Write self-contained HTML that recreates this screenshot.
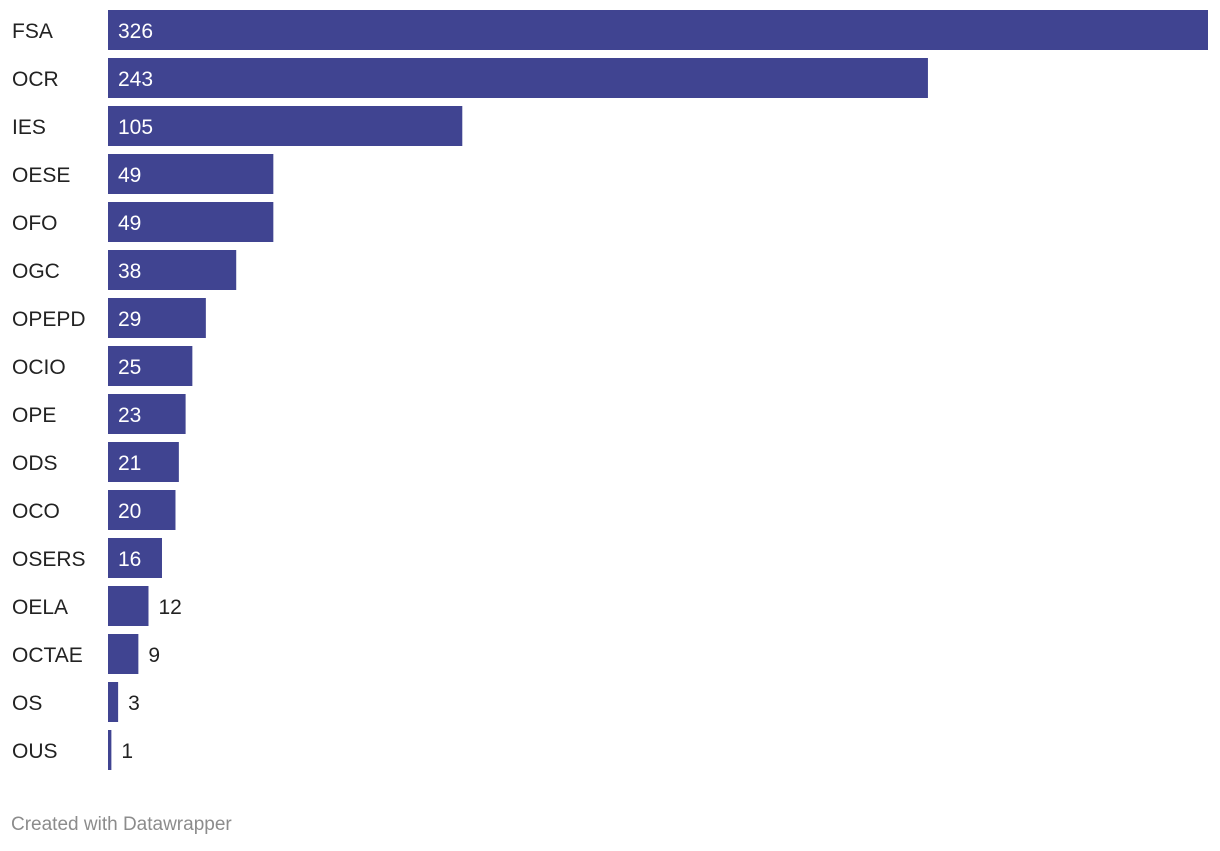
<!DOCTYPE html>
<html><head><meta charset="utf-8">
<style>
body{margin:0;background:#fff;width:1220px;height:846px;overflow:hidden;font-family:"Liberation Sans",sans-serif;}
svg text{font-family:"Liberation Sans",sans-serif;}
</style></head>
<body>
<svg id="chart" width="1220" height="846" xmlns="http://www.w3.org/2000/svg">
<text x="11" y="830" font-size="19" fill="#8c8c8c">Created with Datawrapper</text>
</svg>
<script>
const categories=["FSA","OCR","IES","OESE","OFO","OGC","OPEPD","OCIO","OPE","ODS","OCO","OSERS","OELA","OCTAE","OS","OUS"];
const values=[326,243,105,49,49,38,29,25,23,21,20,16,12,9,3,1];
const svg=document.getElementById('chart');
const NS='http://www.w3.org/2000/svg';
const x0=108,x1=1208,maxV=326;
function xs(v){return x0+(v/maxV)*(x1-x0);}
function ys(i){return 10+i*48;}
categories.forEach((c,i)=>{
  const y=ys(i),w=xs(values[i])-x0;
  const lab=document.createElementNS(NS,'text');
  
  
  lab.setAttribute('x',12);lab.setAttribute('y',y+28);
  lab.setAttribute('font-size',21);lab.setAttribute('fill','#222');
  lab.textContent=c;svg.appendChild(lab);
  const r=document.createElementNS(NS,'rect');
  
  
  r.setAttribute('x',x0);r.setAttribute('y',y);
  r.setAttribute('width',Math.max(w,3));r.setAttribute('height',40);
  r.setAttribute('fill','#404491');svg.appendChild(r);
  const v=document.createElementNS(NS,'text');
  
  
  const inside=w>50;
  v.setAttribute('x',inside?x0+10:x0+Math.max(w,3)+10);
  v.setAttribute('y',y+28);
  v.setAttribute('font-size',21);
  v.setAttribute('fill',inside?'#fff':'#222');
  v.textContent=values[i];svg.appendChild(v);
});
</script>
</body></html>
